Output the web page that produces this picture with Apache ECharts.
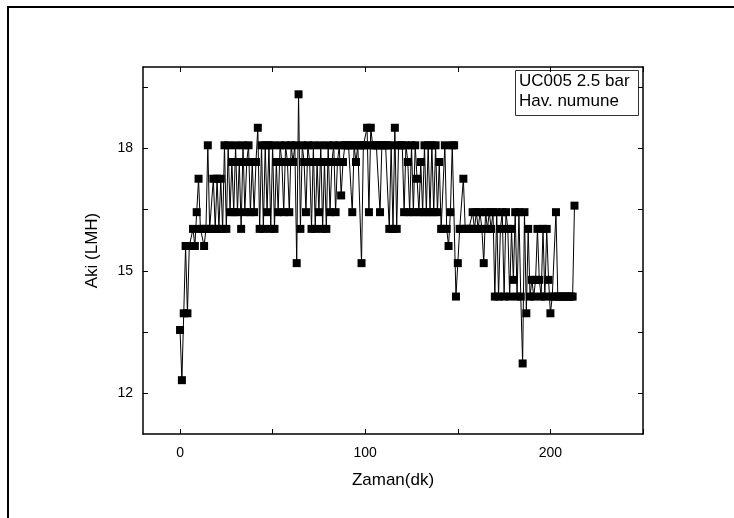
<!DOCTYPE html>
<html>
<head>
<meta charset="utf-8">
<script src="https://cdn.jsdelivr.net/npm/echarts@6/dist/echarts.min.js"></script>
<style>
    html, body { margin: 0; padding: 0; background: #fff; }
    #main { width: 734px; height: 518px; }
</style>
</head>
<body>
<div id="main"></div>
<script>
    // zaman (dk)
    var zaman = [
        0, 1, 2, 3, 4, 5, 6, 7, 8, 9, 10, 11, 12, 13, 14, 15, 16, 17, 18, 19,
        20, 21, 22, 23, 24, 25, 26, 27, 28, 29, 30, 31, 32, 33, 34, 35, 36, 37, 38, 39,
        40, 41, 42, 43, 44, 45, 46, 47, 48, 49, 50, 51, 52, 53, 54, 55, 56, 57, 58, 59,
        60, 61, 62, 63, 64, 65, 66, 67, 68, 69, 70, 71, 72, 73, 74, 75, 76, 77, 78, 79,
        80, 81, 82, 83, 84, 85, 86, 87, 88, 89, 90, 91, 92, 93, 94, 95, 96, 97, 98, 99,
        100, 101, 102, 103, 104, 105, 106, 107, 108, 109, 110, 111, 112, 113, 114, 115, 116, 117, 118, 119,
        120, 121, 122, 123, 124, 125, 126, 127, 128, 129, 130, 131, 132, 133, 134, 135, 136, 137, 138, 139,
        140, 141, 142, 143, 144, 145, 146, 147, 148, 149, 150, 151, 152, 153, 154, 155, 156, 157, 158, 159,
        160, 161, 162, 163, 164, 165, 166, 167, 168, 169, 170, 171, 172, 173, 174, 175, 176, 177, 178, 179,
        180, 181, 182, 183, 184, 185, 186, 187, 188, 189, 190, 191, 192, 193, 194, 195, 196, 197, 198, 199,
        200, 201, 202, 203, 204, 205, 206, 207, 208, 209, 210, 211, 212, 213
    ];
    // aki (LMH)
    var aki = [
        13.55, 12.32, 13.96, 15.61, 13.96, 15.61, 15.61, 16.03, 15.61, 16.44,
        17.26, 16.03, 16.03, 15.61, 16.03, 18.08, 16.03, 16.03, 17.26, 16.03,
        17.26, 16.03, 17.26, 16.03, 18.08, 16.03, 18.08, 16.44, 17.67, 16.44,
        18.08, 16.44, 17.67, 16.03, 18.08, 16.44, 17.67, 18.08, 16.44, 17.67,
        16.44, 17.67, 18.51, 16.03, 18.08, 16.03, 18.08, 16.44, 18.08, 16.03,
        18.08, 16.03, 17.67, 16.44, 18.08, 17.67, 16.44, 18.08, 17.67, 16.44,
        18.08, 17.67, 18.08, 15.19, 19.33, 16.03, 18.08, 17.67, 16.44, 18.08,
        17.67, 16.03, 18.08, 16.03, 17.67, 16.44, 18.08, 16.03, 17.67, 16.03,
        18.08, 16.44, 17.67, 18.08, 16.44, 17.67, 18.08, 16.85, 17.67, 18.08,
        18.08, 18.08, 18.08, 16.44, 18.08, 17.67, 18.08, 18.08, 15.19, 18.08,
        18.08, 18.51, 16.44, 18.51, 18.08, 18.08, 18.08, 18.08, 16.44, 18.08,
        18.08, 18.08, 18.08, 16.03, 18.08, 16.03, 18.51, 16.03, 18.08, 18.08,
        18.08, 16.44, 18.08, 17.67, 16.44, 18.08, 16.44, 18.08, 17.26, 16.44,
        17.67, 16.44, 18.08, 16.44, 18.08, 16.44, 18.08, 16.44, 18.08, 16.44,
        17.67, 16.03, 16.03, 18.08, 16.03, 15.61, 16.44, 18.08, 18.08, 14.37,
        15.19, 16.03, 16.03, 17.26, 16.03, 16.03, 16.03, 16.03, 16.44, 16.03,
        16.44, 16.03, 16.44, 16.03, 15.19, 16.44, 16.03, 16.44, 16.03, 16.44,
        14.37, 16.44, 14.37, 16.03, 16.44, 14.37, 16.44, 16.03, 14.37, 16.03,
        14.78, 16.44, 14.37, 16.44, 14.37, 12.73, 16.44, 13.96, 16.03, 14.37,
        14.78, 14.37, 14.78, 16.03, 14.78, 14.37, 16.03, 14.37, 16.03, 14.78,
        13.96, 14.37, 14.37, 16.44, 14.37, 14.37, 14.37, 14.37, 14.37, 14.37,
        14.37, 14.37, 14.37, 16.6
    ];
    // eksen tikleri
    var xTicks = [0, 50, 100, 150, 200, 250];
    var xLabels = [0, 100, 200];
    var yTicks = [12, 13.5, 15, 16.5, 18, 19.5];
    var yLabels = [12, 15, 18];
    var legendLines = ['UC005 2.5 bar', 'Hav. numune'];

    var points = [];
    for (var i = 0; i < zaman.length; i++) {
        points.push([zaman[i], aki[i]]);
    }

    var font = 'Arial, "Liberation Sans", sans-serif';
    var black = '#000';

    // eksen (alt/ust, sol/sag) ortak ayarlari
    function axis(pos, min, max, ticks, labels, name, gap, margin) {
        var a = {
            type: 'value',
            position: pos,
            min: min,
            max: max,
            axisLine: { show: true, onZero: false, lineStyle: { color: black, width: 1.5 } },
            axisTick: { show: true, inside: true, length: 5, customValues: ticks, lineStyle: { color: black, width: 1 } },
            axisLabel: { show: false },
            splitLine: { show: false }
        };
        if (labels) {
            a.axisLabel = { show: true, customValues: labels, color: black, fontSize: 14, fontFamily: font, margin: margin };
            a.name = name;
            a.nameLocation = 'middle';
            a.nameGap = gap;
            a.nameTextStyle = { color: black, fontSize: 17, fontFamily: font };
        }
        return a;
    }

    var chart = echarts.init(document.getElementById('main'));
    chart.setOption({
        animation: false,
        backgroundColor: '#fff',
        grid: { left: 143, right: 91, top: 67, bottom: 84 },
        xAxis: [
            axis('bottom', -20, 250, xTicks, xLabels, 'Zaman(dk)', 38, 12),
            axis('top', -20, 250, xTicks, null)
        ],
        yAxis: [
            axis('left', 11, 20, yTicks, yLabels, 'Aki (LMH)', 42, 10),
            axis('right', 11, 20, yTicks, null)
        ],
        series: [
            {
                type: 'line',
                data: points,
                xAxisIndex: 0,
                yAxisIndex: 0,
                symbol: 'rect',
                symbolSize: 8,
                showAllSymbol: true,
                itemStyle: { color: black },
                lineStyle: { color: black, width: 1 }
            }
        ],
        graphic: [
            // dis cerceve
            {
                type: 'rect',
                shape: { x: 8, y: 7, width: 800, height: 600 },
                style: { fill: 'none', stroke: black, lineWidth: 2 }
            },
            // aciklama kutusu
            {
                type: 'rect',
                shape: { x: 515.5, y: 70.5, width: 123, height: 45 },
                style: { fill: '#fff', stroke: '#333', lineWidth: 1 }
            },
            {
                type: 'text',
                x: 519, y: 73,
                style: { text: legendLines[0], fill: black, font: '17px ' + font }
            },
            {
                type: 'text',
                x: 519, y: 93,
                style: { text: legendLines[1], fill: black, font: '17px ' + font }
            }
        ]
    });
</script>
</body>
</html>
